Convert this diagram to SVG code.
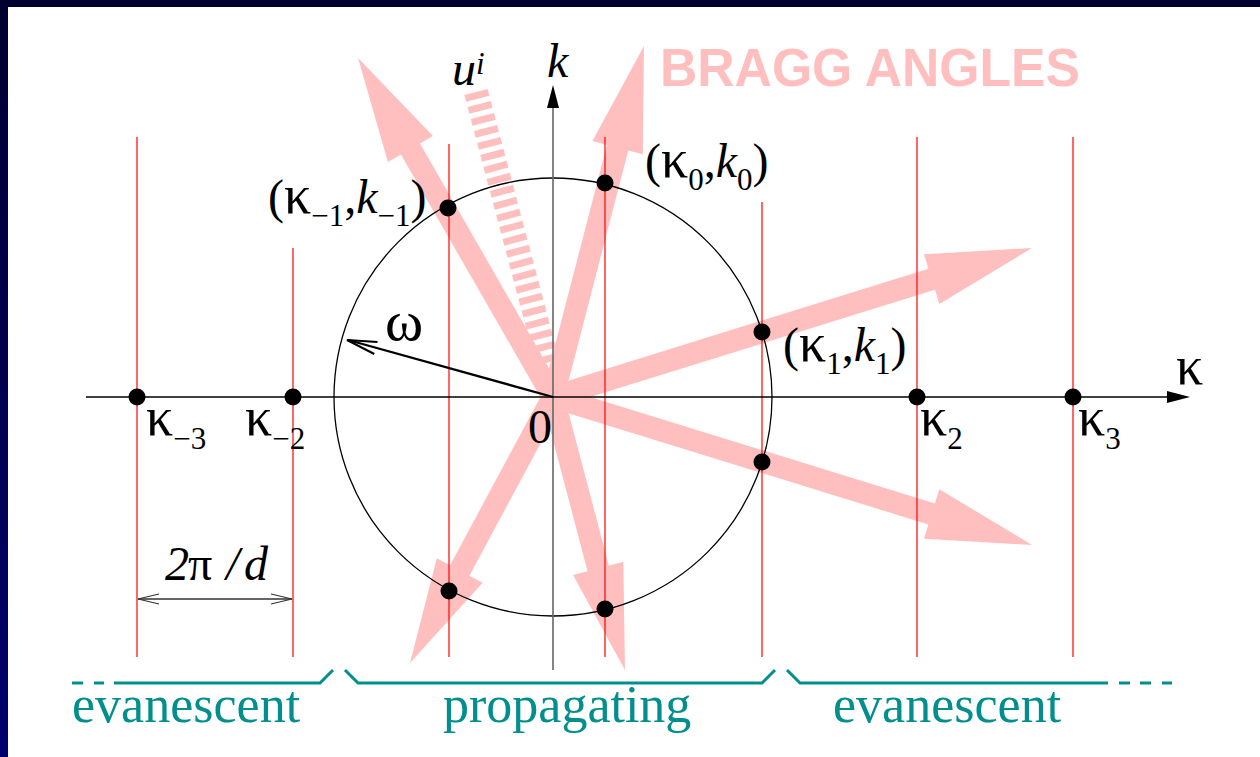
<svg xmlns="http://www.w3.org/2000/svg" width="1260" height="757" viewBox="0 0 1260 757">
<defs>
<linearGradient id="bg" x1="0" y1="0" x2="0" y2="1">
<stop offset="0" stop-color="#000030"/>
<stop offset="1" stop-color="#00006e"/>
</linearGradient>
</defs>
<style>
.pink{fill:#ffbfbf;stroke:none}
.red{stroke:#ff0000;stroke-width:1.2;fill:none}
.dot{fill:#000}
.lbl{font-family:"Liberation Serif","Times New Roman",serif;font-size:48px;fill:#000}
.it{font-style:italic}
.sub{font-size:31px}
.g{font-size:54px}
.om{font-size:58px}
.teal{font-family:"Liberation Serif","Times New Roman",serif;font-size:52px;fill:#008f8c}
.brace{stroke:#008f8c;stroke-width:3;fill:none}
</style>
<rect x="0" y="0" width="1260" height="757" fill="url(#bg)"/>
<rect x="8" y="7" width="1252" height="750" fill="#ffffff"/>

<g id="bragg-arrows">
<g transform="translate(553,397) rotate(-119.9)"><path class="pink" d="M0,-11 L286,-11 L286,-26 L391,0 L286,26 L286,11 L0,11 Z"/></g>
<g transform="translate(553,397) rotate(-75.47)"><path class="pink" d="M0,-11 L257.6,-11 L257.6,-26 L362.6,0 L257.6,26 L257.6,11 L0,11 Z"/></g>
<g transform="translate(553,397) rotate(-17.28)"><path class="pink" d="M0,-11 L396.6,-11 L396.6,-26 L501.6,0 L396.6,26 L396.6,11 L0,11 Z"/></g>
<g transform="translate(553,397) rotate(17.17)"><path class="pink" d="M0,-11 L396.3,-11 L396.3,-26 L501.3,0 L396.3,26 L396.3,11 L0,11 Z"/></g>
<g transform="translate(553,397) rotate(118.26)"><path class="pink" d="M0,-11 L197,-11 L197,-26 L302,0 L197,26 L197,11 L0,11 Z"/></g>
<g transform="translate(553,397) rotate(75.23)"><path class="pink" d="M0,-11 L177.3,-11 L177.3,-26 L282.3,0 L177.3,26 L177.3,11 L0,11 Z"/></g>
<line x1="476" y1="92" x2="548" y2="364" stroke="#ffbfbf" stroke-width="24" stroke-dasharray="7 5.4"/>
<text x="660" y="86" font-family="Liberation Sans, Arial, sans-serif" font-weight="bold" font-size="53" fill="#ffbfbf" textLength="420" lengthAdjust="spacingAndGlyphs">BRAGG ANGLES</text>
</g>

<g id="grid-lines">
<line class="red" x1="137" y1="137" x2="137" y2="657"/>
<line class="red" x1="293" y1="248" x2="293" y2="657"/>
<line class="red" x1="449" y1="144" x2="449" y2="657"/>
<line class="red" x1="605" y1="137" x2="605" y2="657"/>
<line class="red" x1="762" y1="202" x2="762" y2="657"/>
<line class="red" x1="917" y1="137" x2="917" y2="657"/>
<line class="red" x1="1073" y1="137" x2="1073" y2="657"/>
</g>

<g id="circle">
<circle cx="553" cy="397" r="219" fill="none" stroke="#000" stroke-width="1.3"/>
</g>

<g id="connectors">
<line x1="553" y1="670" x2="553" y2="100" stroke="#666" stroke-width="1.6"/>
<polygon points="553,85 547,108 559,108" fill="#000"/>
<line x1="86" y1="397" x2="1172" y2="397" stroke="#000" stroke-width="1.5"/>
<polygon points="1190,397 1167,391 1167,403" fill="#000"/>
<line x1="553" y1="397" x2="348" y2="340" stroke="#000" stroke-width="2.3"/>
<polyline points="377.5,342 347,340 374.3,354" fill="none" stroke="#000" stroke-width="2"/>
<line x1="138" y1="599" x2="292" y2="599" stroke="#333" stroke-width="1.3"/>
<polyline points="159,594 138,599 159,604" fill="none" stroke="#333" stroke-width="1.2"/>
<polyline points="271,594 292,599 271,604" fill="none" stroke="#333" stroke-width="1.2"/>
</g>

<g id="points">
<circle class="dot" cx="137" cy="397" r="8.5"/>
<circle class="dot" cx="293" cy="397" r="8.5"/>
<circle class="dot" cx="917" cy="397" r="8.5"/>
<circle class="dot" cx="1073" cy="397" r="8.5"/>
<circle class="dot" cx="448" cy="208" r="8.5"/>
<circle class="dot" cx="605" cy="183" r="8.5"/>
<circle class="dot" cx="762" cy="332" r="8.5"/>
<circle class="dot" cx="762" cy="462" r="8.5"/>
<circle class="dot" cx="449" cy="591" r="8.5"/>
<circle class="dot" cx="605" cy="609" r="8.5"/>
</g>

<g id="labels">
<text class="lbl it" x="547" y="77">k</text>
<text class="lbl it" x="452" y="85">u<tspan class="sub" dy="-11">i</tspan></text>
<text class="lbl g" x="1176" y="384">κ</text>
<text class="lbl om" x="385" y="340">ω</text>
<text class="lbl" x="528" y="443">0</text>
<text class="lbl" x="645" y="177">(<tspan class="g">κ</tspan><tspan class="sub" dy="13">0</tspan><tspan dy="-13">,</tspan><tspan class="it">k</tspan><tspan class="sub" dy="13">0</tspan><tspan dy="-13">)</tspan></text>
<text class="lbl" x="268" y="213">(<tspan class="g">κ</tspan><tspan class="sub" dy="13">−1</tspan><tspan dy="-13">,</tspan><tspan class="it">k</tspan><tspan class="sub" dy="13">−1</tspan><tspan dy="-13">)</tspan></text>
<text class="lbl" x="783" y="361">(<tspan class="g">κ</tspan><tspan class="sub" dy="13">1</tspan><tspan dy="-13">,</tspan><tspan class="it">k</tspan><tspan class="sub" dy="13">1</tspan><tspan dy="-13">)</tspan></text>
<text class="lbl" x="146" y="435"><tspan class="g">κ</tspan><tspan class="sub" dy="14">−3</tspan></text>
<text class="lbl" x="245" y="435"><tspan class="g">κ</tspan><tspan class="sub" dy="14">−2</tspan></text>
<text class="lbl" x="920" y="435"><tspan class="g">κ</tspan><tspan class="sub" dy="14">2</tspan></text>
<text class="lbl" x="1078" y="435"><tspan class="g">κ</tspan><tspan class="sub" dy="14">3</tspan></text>
<text class="lbl" x="165" y="580"><tspan class="it">2</tspan><tspan x="188">π</tspan><tspan class="it" x="226">/</tspan><tspan class="it" x="244">d</tspan></text>
</g>

<g id="regions">
<path class="brace" d="M72,683 H83 M94,683 H104 M114,683 H320 L333,670"/>
<path class="brace" d="M345,670 L358,683 H762 L775,670"/>
<path class="brace" d="M787,670 L800,683 H1108 M1119,683 H1130 M1140,683 H1151 M1162,683 H1172"/>
<text class="teal" x="72" y="722">evanescent</text>
<text class="teal" x="443" y="722">propagating</text>
<text class="teal" x="833" y="722">evanescent</text>
</g>
</svg>
